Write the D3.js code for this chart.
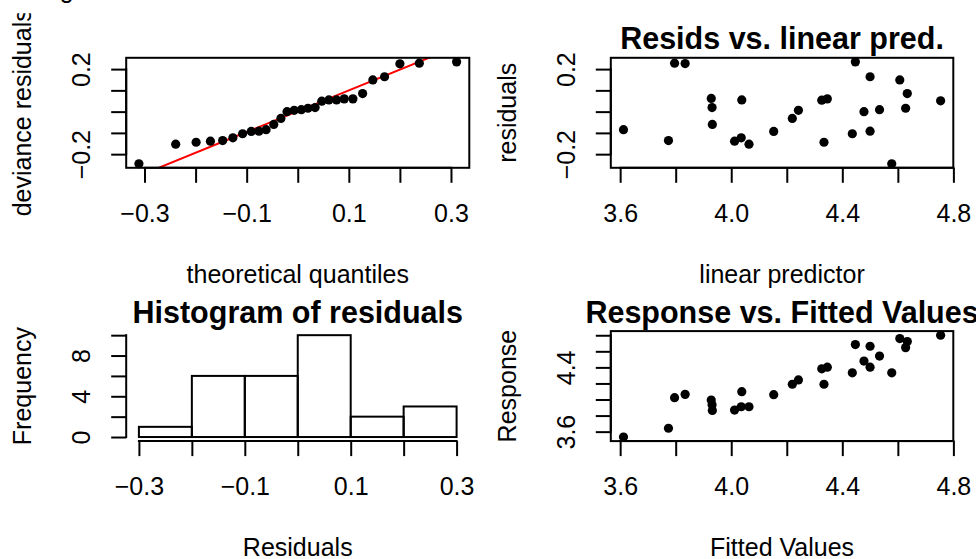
<!DOCTYPE html>
<html>
<head>
<meta charset="utf-8">
<script src="https://cdn.jsdelivr.net/npm/d3@7"></script>
<style>
  html, body { margin: 0; padding: 0; background: #fff; }
  svg { display: block; font-family: "Liberation Sans", Arial, Helvetica, sans-serif; }
</style>
</head>
<body>
<svg id="chart" width="976" height="559"></svg>
<script>
// ---------- data ----------
const qqTheoretical = [-0.311,-0.239,-0.199,-0.171,-0.147,-0.127,-0.108,-0.091,-0.076,-0.062,-0.047,-0.033,-0.021,-0.007,0.007,0.020,0.034,0.047,0.061,0.076,0.091,0.108,0.127,0.147,0.170,0.200,0.238,0.311];
const qqResiduals = [-0.245,-0.153,-0.144,-0.139,-0.136,-0.123,-0.104,-0.093,-0.092,-0.085,-0.060,-0.032,0.000,0.006,0.009,0.016,0.019,0.049,0.055,0.055,0.060,0.060,0.085,0.149,0.164,0.225,0.228,0.234];
const qqLineIntercept = 0.002;
const qqLineSlope = 0.978;

const linearPredictor = [3.612,3.774,3.796,3.834,3.928,3.931,3.932,4.012,4.036,4.038,4.064,4.153,4.220,4.242,4.326,4.346,4.334,4.436,4.447,4.478,4.500,4.500,4.534,4.578,4.607,4.634,4.628,4.754];
const residuals = [-0.085,-0.136,0.228,0.226,0.062,0.019,-0.060,-0.139,-0.123,0.055,-0.153,-0.093,-0.032,0.006,0.054,0.060,-0.144,-0.104,0.234,0.000,0.164,-0.092,0.009,-0.245,0.149,0.085,0.016,0.051];
const response = [3.533,3.642,4.023,4.064,3.993,3.935,3.864,3.868,3.910,4.098,3.910,4.060,4.190,4.244,4.382,4.403,4.190,4.332,4.684,4.479,4.663,4.403,4.541,4.332,4.759,4.721,4.646,4.801];

const histBreaks = [-0.3,-0.2,-0.1,0.0,0.1,0.2,0.3];
const histCounts = [1,6,6,10,2,3];

const qqXTicks = [-0.3,-0.2,-0.1,0,0.1,0.2,0.3];
const qqXLabels = ["\u22120.3","","\u22120.1","","0.1","","0.3"];
const residTicks = [-0.2,-0.1,0,0.1,0.2];
const residLabels = ["\u22120.2","","","","0.2"];
const predTicks = [3.6,3.8,4.0,4.2,4.4,4.6,4.8];
const predLabels = ["3.6","","4.0","","4.4","","4.8"];
const histXTicks = [-0.3,-0.2,-0.1,0,0.1,0.2,0.3];
const histXLabels = ["\u22120.3","","\u22120.1","","0.1","","0.3"];
const histYTicks = [0,2,4,6,8,10];
const histYLabels = ["0","","4","","8",""];
const respTicks = [3.6,3.8,4.0,4.2,4.4,4.6,4.8];
const respLabels = ["3.6","","","","4.4","",""];

// ---------- layout ----------
const svg = d3.select("#chart");
const colLeft = [126.2, 610.8];
const colWidth = [343.1, 342.5];
const rowTop = [57.8, 331.1];
const rowHeight = 110;
const FS = 25, TITLE_FS = 30.5, TICK = 15, LW = 2;

function pad(ext) { const r = ext[1] - ext[0]; return [ext[0] - 0.04 * r, ext[1] + 0.04 * r]; }

function panel(col, row) {
  const x0 = colLeft[col], y0 = rowTop[row];
  return { left: x0, top: y0, right: x0 + colWidth[col], bottom: y0 + rowHeight, g: svg.append("g") };
}

function bottomAxis(p, scale, ticks, labels, axisY) {
  const ax = d3.axisBottom(scale).tickValues(ticks).tickFormat((d, i) => labels[i]).tickSize(TICK);
  const g = p.g.append("g").attr("transform", `translate(0,${axisY})`).call(ax);
  g.select(".domain").remove();
  g.selectAll(".tick line").attr("stroke", "#000").attr("stroke-width", LW);
  g.selectAll(".tick text").attr("y", 54.3).attr("dy", null).attr("fill", "#000")
    .style("font-size", FS + "px").style("font-family", "Liberation Sans, Arial, sans-serif");
  g.append("line").attr("x1", scale(ticks[0])).attr("x2", scale(ticks[ticks.length - 1]))
    .attr("stroke", "#000").attr("stroke-width", LW).attr("stroke-linecap", "square");
}

function leftAxis(p, scale, ticks, labels, axisX) {
  const ax = d3.axisLeft(scale).tickValues(ticks).tickFormat((d, i) => labels[i]).tickSize(TICK);
  const g = p.g.append("g").attr("transform", `translate(${axisX},0)`).call(ax);
  g.select(".domain").remove();
  g.selectAll(".tick line").attr("stroke", "#000").attr("stroke-width", LW);
  g.selectAll(".tick text").attr("x", null).attr("dy", null).attr("fill", "#000")
    .attr("text-anchor", "middle")
    .attr("transform", "translate(-36,0) rotate(-90)")
    .style("font-size", FS + "px").style("font-family", "Liberation Sans, Arial, sans-serif");
  g.append("line").attr("y1", scale(ticks[0])).attr("y2", scale(ticks[ticks.length - 1]))
    .attr("stroke", "#000").attr("stroke-width", LW).attr("stroke-linecap", "square");
}

function box(p) {
  p.g.append("rect").attr("x", p.left).attr("y", p.top)
    .attr("width", p.right - p.left).attr("height", p.bottom - p.top)
    .attr("fill", "none").attr("stroke", "#000").attr("stroke-width", LW);
}

function titles(p, main, xlab, ylab, clipYLab) {
  const cx = (p.left + p.right) / 2, cy = (p.top + p.bottom) / 2;
  if (main) {
    p.g.append("text").attr("x", cx).attr("y", p.top - 8.5).attr("text-anchor", "middle")
      .attr("font-weight", "bold").style("font-size", TITLE_FS + "px").text(main);
  }
  p.g.append("text").attr("x", cx).attr("y", p.bottom + 114.8).attr("text-anchor", "middle")
    .style("font-size", FS + "px").text(xlab);
  const yl = p.g.append("text").attr("text-anchor", "middle")
    .attr("transform", `translate(${p.left - 95},${cy}) rotate(-90)`)
    .style("font-size", FS + "px").text(ylab);
  if (clipYLab) yl.attr("clip-path", "url(#clipFig1)");
}

// clip for the first figure region (label is cut at its top)
svg.append("defs").append("clipPath").attr("id", "clipFig1")
  .attr("clipPathUnits", "userSpaceOnUse")
  .append("rect").attr("x", -200).attr("y", -200).attr("width", 400).attr("height", 400);
// we set the clip in screen coordinates via a wrapper group instead
svg.select("#clipFig1").remove();
svg.select("defs").append("clipPath").attr("id", "clipFig1b")
  .append("rect").attr("x", 0).attr("y", 13.3).attr("width", 488).attr("height", 260);

// stray glyph at very top (cut-off text above the figure)
svg.append("text").attr("x", 66.7).attr("y", -2.5).attr("text-anchor", "middle")
  .style("font-size", FS + "px").text("g");

// ---------- panel 1: QQ plot ----------
{
  const p = panel(0, 0);
  const x = d3.scaleLinear().domain(pad(d3.extent(qqTheoretical))).range([p.left, p.right]);
  const y = d3.scaleLinear().domain(pad(d3.extent(qqResiduals))).range([p.bottom, p.top]);
  const clipId = "clipP1";
  svg.select("defs").append("clipPath").attr("id", clipId)
    .append("rect").attr("x", p.left).attr("y", p.top).attr("width", p.right - p.left).attr("height", p.bottom - p.top);
  const dom = x.domain();
  const linePts = [dom[0], dom[1]].map(v => [v, qqLineIntercept + qqLineSlope * v]);
  p.g.append("path").attr("clip-path", `url(#${clipId})`)
    .attr("d", d3.line().x(d => x(d[0])).y(d => y(d[1]))(linePts))
    .attr("stroke", "#ff0000").attr("stroke-width", LW).attr("fill", "none");
  p.g.append("g").selectAll("circle").data(qqTheoretical).join("circle")
    .attr("cx", d => x(d)).attr("cy", (d, i) => y(qqResiduals[i])).attr("r", 4.6).attr("fill", "#000");
  bottomAxis(p, x, qqXTicks, qqXLabels, p.bottom);
  leftAxis(p, y, residTicks, residLabels, p.left);
  box(p);
  const cy = (p.top + p.bottom) / 2;
  p.g.append("text").attr("x", (p.left + p.right) / 2).attr("y", p.bottom + 114.8).attr("text-anchor", "middle")
    .style("font-size", FS + "px").text("theoretical quantiles");
  svg.append("g").attr("clip-path", "url(#clipFig1b)").append("text").attr("text-anchor", "middle")
    .attr("transform", `translate(${p.left - 95},${cy}) rotate(-90)`)
    .style("font-size", FS + "px").text("deviance residuals");
}

// ---------- panel 2: residuals vs linear predictor ----------
{
  const p = panel(1, 0);
  const x = d3.scaleLinear().domain(pad(d3.extent(linearPredictor))).range([p.left, p.right]);
  const y = d3.scaleLinear().domain(pad(d3.extent(residuals))).range([p.bottom, p.top]);
  p.g.append("g").selectAll("circle").data(linearPredictor).join("circle")
    .attr("cx", d => x(d)).attr("cy", (d, i) => y(residuals[i])).attr("r", 4.6).attr("fill", "#000");
  bottomAxis(p, x, predTicks, predLabels, p.bottom);
  leftAxis(p, y, residTicks, residLabels, p.left);
  box(p);
  titles(p, "Resids vs. linear pred.", "linear predictor", "residuals", false);
}

// ---------- panel 3: histogram ----------
{
  const p = panel(0, 1);
  const x = d3.scaleLinear().domain(pad([histBreaks[0], histBreaks[histBreaks.length - 1]])).range([p.left, p.right]);
  const y = d3.scaleLinear().domain(pad([0, d3.max(histCounts)])).range([p.bottom, p.top]);
  p.g.append("g").selectAll("rect").data(histCounts).join("rect")
    .attr("x", (d, i) => x(histBreaks[i])).attr("width", (d, i) => x(histBreaks[i + 1]) - x(histBreaks[i]))
    .attr("y", d => y(d)).attr("height", d => y(0) - y(d))
    .attr("fill", "none").attr("stroke", "#000").attr("stroke-width", LW);
  bottomAxis(p, x, histXTicks, histXLabels, p.bottom);
  leftAxis(p, y, histYTicks, histYLabels, p.left);
  titles(p, "Histogram of residuals", "Residuals", "Frequency", false);
}

// ---------- panel 4: response vs fitted ----------
{
  const p = panel(1, 1);
  const x = d3.scaleLinear().domain(pad(d3.extent(linearPredictor))).range([p.left, p.right]);
  const y = d3.scaleLinear().domain(pad(d3.extent(response))).range([p.bottom, p.top]);
  p.g.append("g").selectAll("circle").data(linearPredictor).join("circle")
    .attr("cx", d => x(d)).attr("cy", (d, i) => y(response[i])).attr("r", 4.6).attr("fill", "#000");
  bottomAxis(p, x, predTicks, predLabels, p.bottom);
  leftAxis(p, y, respTicks, respLabels, p.left);
  box(p);
  titles(p, "Response vs. Fitted Values", "Fitted Values", "Response", false);
}
</script>
</body>
</html>
